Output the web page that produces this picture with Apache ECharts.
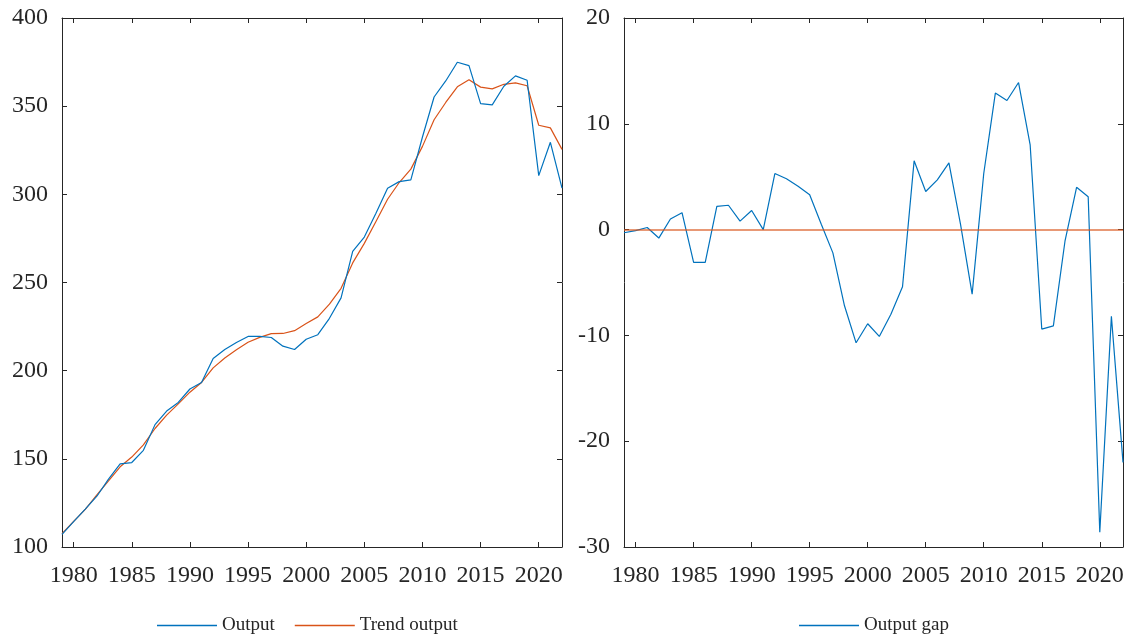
<!DOCTYPE html>
<html>
<head>
<meta charset="utf-8">
<script src="https://cdn.jsdelivr.net/npm/echarts@6/dist/echarts.min.js"></script>
<style>
html,body{margin:0;padding:0;background:#fff;}
#chart{width:1128px;height:637px;}
</style>
</head>
<body>
<div id="chart"></div>
<script>
var years = [1979,1980,1981,1982,1983,1984,1985,1986,1987,1988,1989,1990,1991,1992,1993,1994,1995,1996,1997,1998,1999,2000,2001,2002,2003,2004,2005,2006,2007,2008,2009,2010,2011,2012,2013,2014,2015,2016,2017,2018,2019,2020,2021,2022];
var output = [107.2,114.4,121.5,128.8,138.5,147.1,147.9,154.8,169.4,177.1,182.0,189.6,193.3,206.9,212.0,216.0,219.4,219.4,218.8,213.9,212.0,217.8,220.4,229.7,241.3,267.6,275.8,289.3,303.5,307.2,308.2,332.5,355.2,364.3,374.9,373.0,351.4,350.7,361.3,367.2,364.7,310.6,329.5,303.5];
var trendOutput = [107.5,114.5,121.3,129.6,137.5,145.5,151.0,157.9,167.2,174.8,181.2,187.8,193.3,201.6,207.2,211.9,216.1,218.9,221.0,221.1,222.7,226.7,230.5,237.7,246.7,261.1,272.2,284.6,297.2,306.7,314.3,327.2,342.3,352.1,361.0,365.0,360.8,359.8,362.4,363.2,361.6,339.2,337.7,325.5];
var outputGap = [-0.3,-0.1,0.2,-0.8,1.0,1.6,-3.1,-3.1,2.2,2.3,0.8,1.8,0.0,5.3,4.8,4.1,3.3,0.5,-2.2,-7.2,-10.7,-8.9,-10.1,-8.0,-5.4,6.5,3.6,4.7,6.3,0.5,-6.1,5.3,12.9,12.2,13.9,8.0,-9.4,-9.1,-1.1,4.0,3.1,-28.6,-8.2,-22.0];
var leftY = {min: 100, max: 400, interval: 50};
var rightY = {min: -30, max: 20, interval: 10};

var FONT = "'Liberation Serif','Times New Roman',serif";
var AXC = '#262626';
var BLUE = '#0072BD';
var ORANGE = '#D95319';
var cats = years.map(String);
function tickFn(i, v) { return Number(v) % 5 === 0; }

function xAx(grid, pos, showLabel) {
  return {
    type: 'category', gridIndex: grid, position: pos, data: cats, boundaryGap: false,
    axisLine: {show: true, onZero: false, lineStyle: {color: AXC, width: 1}},
    axisTick: {show: true, inside: true, length: 5, interval: tickFn, lineStyle: {color: AXC}},
    axisLabel: {show: showLabel, interval: tickFn, color: AXC, fontFamily: FONT, fontSize: 24, margin: 17},
    splitLine: {show: false}
  };
}
function yAx(grid, pos, r, showLabel) {
  return {
    type: 'value', gridIndex: grid, position: pos, min: r.min, max: r.max, interval: r.interval,
    axisLine: {show: true, onZero: false, lineStyle: {color: AXC, width: 1}},
    axisTick: {show: true, inside: true, length: 5, lineStyle: {color: AXC}},
    axisLabel: {show: showLabel, color: AXC, fontFamily: FONT, fontSize: 24, margin: 14, padding: [6, 0, 0, 0]},
    splitLine: {show: false}
  };
}
function legendAt(names, left) {
  return {data: names, left: left, top: 616, padding: 0, icon: 'rect', itemWidth: 60, itemHeight: 1.5, itemGap: 20,
    textStyle: {fontFamily: FONT, fontSize: 19, color: AXC}};
}

var chart = echarts.init(document.getElementById('chart'), null, {renderer: 'canvas'});
chart.setOption({
  backgroundColor: '#fff',
  animation: false,
  grid: [
    {left: 62, width: 500, top: 18, height: 529},
    {left: 624, width: 499, top: 18, height: 529}
  ],
  xAxis: [xAx(0, 'bottom', true), xAx(0, 'top', false), xAx(1, 'bottom', true), xAx(1, 'top', false)],
  yAxis: [yAx(0, 'left', leftY, true), yAx(0, 'right', leftY, false), yAx(1, 'left', rightY, true), yAx(1, 'right', rightY, false)],
  legend: [legendAt(['Output', 'Trend output'], 157), legendAt(['Output gap'], 799)],
  series: [
    {name: 'Output', type: 'line', xAxisIndex: 0, yAxisIndex: 0, data: output, symbol: 'none',
     lineStyle: {color: BLUE, width: 1.2}, itemStyle: {color: BLUE}, z: 3},
    {name: 'Trend output', type: 'line', xAxisIndex: 0, yAxisIndex: 0, data: trendOutput, symbol: 'none',
     lineStyle: {color: ORANGE, width: 1.2}, itemStyle: {color: ORANGE}, z: 2},
    {name: 'Output gap', type: 'line', xAxisIndex: 2, yAxisIndex: 2, data: outputGap, symbol: 'none',
     lineStyle: {color: BLUE, width: 1.2}, itemStyle: {color: BLUE}, z: 3,
     markLine: {silent: true, symbol: ['none', 'none'], label: {show: false},
       lineStyle: {color: ORANGE, width: 2.2, opacity: 0.6, type: 'solid'},
       data: [{yAxis: 0}]}}
  ]
});
</script>
</body>
</html>
